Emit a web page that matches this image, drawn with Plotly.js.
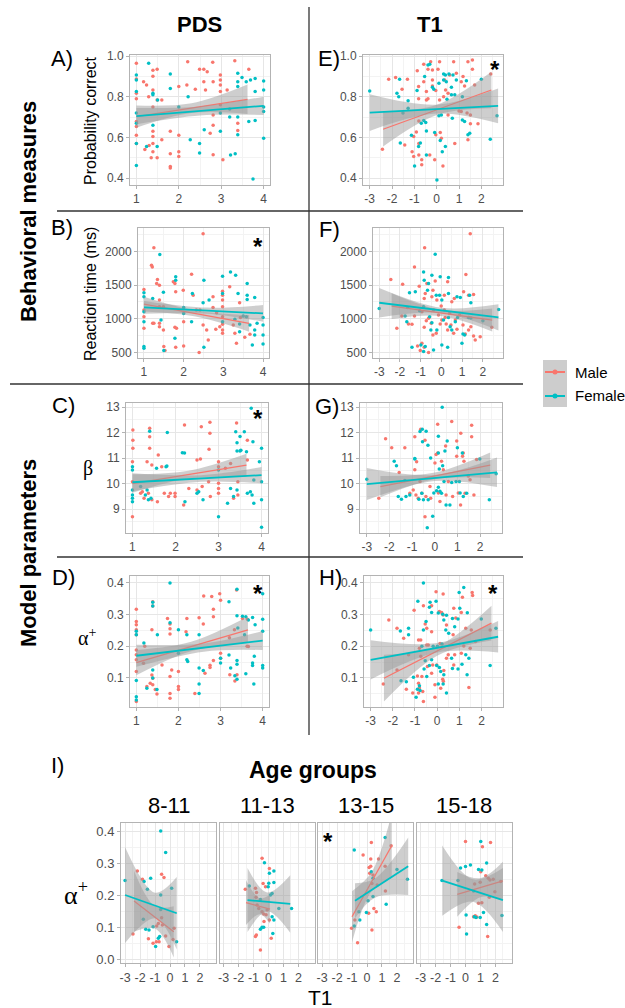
<!DOCTYPE html>
<html>
<head>
<meta charset="utf-8">
<script src="https://cdn.plot.ly/plotly-3.0.1.min.js"></script>
<style>html,body{margin:0;padding:0;background:#fff}#fig{width:625px;height:1008px}</style>
</head>
<body>
<div id="fig"></div>
<script>
// ---- data: [x, y] per point ----
const aMale = [[1,0.964],[1,0.887],[1,0.817],[1,0.79],[1,0.678],[1,0.653],[1,0.61],[1,0.57],[1.17,0.874],[1.24,0.858],[1.29,0.8],[1.39,0.93],[1.39,0.9],[1.39,0.833],[1.39,0.75],[1.39,0.63],[1.39,0.604],[1.39,0.57],[1.39,0.53],[1.49,0.935],[1.49,0.784],[1.35,0.5],[1.49,0.5],[1.6,0.784],[1.6,0.588],[1.8,0.63],[1.8,0.52],[1.8,0.457],[2,0.85],[2,0.61],[2,0.53],[2,0.506],[2.19,0.858],[2.21,0.972],[2.39,0.837],[2.49,0.935],[2.59,0.935],[2.67,0.923],[2.59,0.874],[2.63,0.833],[2.74,0.62],[2.8,0.969],[2.81,0.874],[2.81,0.71],[2.81,0.66],[2.81,0.515],[2.98,0.907],[2.98,0.882],[2.98,0.858],[2.98,0.825],[2.98,0.76],[3.14,0.833],[3.32,0.977],[3.39,0.67],[3.39,0.634],[3.65,0.935],[3.04,0.49],[1.8,0.45],[1.2,0.54],[1.3,0.56]];
const aFemale = [[1,0.907],[1,0.882],[1,0.825],[1,0.72],[1,0.67],[1,0.57],[1,0.462],[1.29,0.964],[1.39,0.817],[1.39,0.66],[1.24,0.555],[1.49,0.555],[1.5,0.784],[1.8,0.912],[1.8,0.84],[2,0.75],[2.22,0.8],[2.27,0.588],[2.49,0.57],[2.49,0.523],[2.6,0.637],[2.98,0.63],[2.98,0.72],[3.2,0.7],[3.22,0.514],[3.33,0.52],[3.39,0.915],[3.39,0.874],[3.39,0.85],[3.39,0.613],[3.49,0.895],[3.59,0.874],[3.69,0.882],[3.8,0.89],[3.8,0.825],[3.65,0.678],[3.8,0.683],[3.75,0.395],[4,0.877],[4,0.833],[4,0.75],[4,0.727],[4,0.596],[3.2,0.74],[3.39,0.7],[1.39,0.81]];

const eMale = [[-2.43,0.542],[-2.15,0.886],[-1.84,0.894],[-1.31,0.886],[-1.55,0.837],[-1.43,0.563],[-1.1,0.53],[-1.03,0.604],[-0.91,0.626],[-0.87,0.928],[-0.81,0.85],[-0.81,0.79],[-0.8,0.68],[-0.8,0.57],[-0.8,0.514],[-0.67,0.465],[-0.67,0.49],[-0.58,0.96],[-0.58,0.874],[-0.46,0.825],[-0.46,0.784],[-0.39,0.935],[-0.39,0.79],[-0.31,0.514],[-0.27,0.972],[-0.19,0.931],[-0.19,0.882],[-0.19,0.853],[-0.09,0.49],[-0.04,0.83],[-0.04,0.613],[0.06,0.935],[0.13,0.972],[0.13,0.784],[0.16,0.624],[0.21,0.596],[0.28,0.46],[0.31,0.8],[0.36,0.882],[0.4,0.833],[0.51,0.817],[0.51,0.71],[0.58,0.907],[0.76,0.972],[0.81,0.57],[0.88,0.915],[1.0,0.73],[1.1,0.727],[1.1,0.874],[1.18,0.899],[1.25,0.853],[1.36,0.72],[1.4,0.972],[1.4,0.588],[1.51,0.667],[1.51,0.71],[1.6,0.98],[1.6,0.935],[1.7,0.858],[1.85,0.667],[2.42,0.912],[-1.03,0.506]];
const eFemale = [[-3,0.828],[-1.78,0.817],[-1.66,0.886],[-1.7,0.8],[-1.63,0.572],[-1.28,0.78],[-1.28,0.743],[-1.51,0.72],[-1.13,0.61],[-0.99,0.46],[-0.88,0.83],[-0.81,0.555],[-0.73,0.572],[-0.69,0.67],[-0.58,0.683],[-0.49,0.673],[-0.54,0.899],[-0.46,0.514],[-0.46,0.632],[-0.39,0.956],[-0.31,0.959],[-0.19,0.846],[-0.13,0.837],[-0.09,0.624],[0.01,0.39],[0.1,0.706],[0.1,0.866],[0.16,0.585],[0.21,0.71],[0.25,0.53],[0.31,0.882],[0.31,0.912],[0.39,0.907],[0.43,0.874],[0.46,0.787],[0.55,0.912],[0.66,0.846],[0.66,0.809],[0.7,0.694],[0.73,0.907],[0.81,0.809],[0.88,0.882],[1.15,0.8],[1.15,0.686],[1.25,0.678],[1.33,0.879],[1.4,0.613],[1.48,0.62],[2.0,0.886],[2.4,0.591],[2.7,0.706],[0.39,0.555]];

const bMale = [[2.49,2260],[1.25,2054],[1.19,1793],[1.21,1769],[1.34,1582],[1.39,1498],[1.32,1523],[1,1434],[1,1130],[1,1031],[1,859],[1.22,933],[1.25,933],[1.39,1277],[1.39,1179],[1.39,933],[1.39,884],[1.49,1179],[1.49,835],[1.5,589],[1.53,530],[1.74,1548],[1.78,1523],[1.8,1400],[1.78,874],[1.82,859],[1.8,579],[1.99,1425],[2,957],[2,598],[2.2,1661],[2.24,1351],[2.32,1130],[2.39,500],[2.49,908],[2.58,835],[2.41,1130],[2.62,687],[2.74,1326],[2.74,1169],[2.83,1090],[2.91,884],[2.98,1410],[2.98,1351],[2.98,1277],[2.98,1179],[2.98,1031],[2.98,918],[2.98,835],[2.98,785],[3.16,1474],[3.25,908],[3.29,785],[3.33,638],[3.41,1238],[3.43,1021],[3.54,726],[3.67,770],[2.81,844]];
const bFemale = [[1,1385],[1,1326],[1,1105],[1,957],[1,589],[1,564],[1.4,1951],[1.49,1395],[1.22,1302],[1.43,982],[1.5,530],[1.8,1622],[1.8,1572],[1.78,711],[2,1169],[2,1080],[2.2,957],[2.22,1375],[2.51,1572],[2.49,1238],[2.51,579],[2.64,1277],[2.98,1631],[2.98,1375],[2.98,957],[3.18,1695],[3.31,1646],[3.37,1375],[3.41,923],[3.41,810],[3.6,1523],[3.6,1351],[3.6,1287],[3.58,1031],[3.67,908],[3.73,613],[3.79,1316],[3.79,835],[3.79,761],[3.85,933],[4,1021],[4,908],[4,761],[4,628],[3.5,1041],[3.29,992]];

const fMale = [[1.39,2260],[-0.81,2054],[-1.3,1769],[-2.44,1582],[-1.87,1513],[-1.07,1484],[-0.7,1523],[-0.3,1562],[0.3,1548],[-0.41,1425],[-0.78,1375],[-0.46,1326],[-0.83,1302],[-0.22,1277],[0.14,1351],[0.62,1302],[0.5,1252],[1.07,1400],[1.18,1656],[1.31,1351],[1.55,1361],[-2.15,859],[-1.91,1041],[-1.59,923],[-1.42,918],[-1.3,1041],[-0.94,1105],[-0.73,972],[-0.83,874],[-0.62,1007],[-0.49,933],[-0.41,761],[-0.38,1130],[-0.25,785],[-0.14,1056],[-0.06,923],[0.02,982],[0.14,1130],[0.18,1021],[0.23,923],[0.3,835],[0.39,1080],[0.46,908],[0.59,785],[0.67,982],[0.75,844],[0.88,1056],[1.04,908],[1.15,775],[1.31,835],[1.42,884],[1.55,746],[1.63,687],[1.87,736],[2.43,874],[-1.15,598],[-0.94,638],[-0.83,579],[-0.62,500],[-1.02,530],[-0.01,1189]];
const fFemale = [[-3,1154],[-0.3,1956],[-0.86,1695],[-0.83,1572],[-0.62,1523],[-0.46,1646],[-0.06,1622],[0.34,1612],[-1.54,1385],[-1.26,1400],[-0.67,1425],[-0.25,1351],[-0.09,1351],[0.02,1277],[0.34,1375],[0.75,1326],[0.91,1316],[1.36,1351],[1.42,1238],[-1.63,1169],[-1.75,1041],[-1.67,957],[-1.05,1120],[-0.86,1179],[-0.57,1031],[-0.46,943],[-0.51,835],[-0.22,835],[0.1,982],[0.34,1021],[0.42,884],[0.5,835],[0.67,957],[0.78,1021],[1.04,775],[1.12,761],[1.31,1021],[1.42,1011],[-1.42,579],[-0.99,613],[-0.78,589],[0.02,613],[0.3,579],[0.99,638],[2.0,972],[2.76,1140],[-0.38,540],[-0.86,515]];

const cMale = [[1.01,12.1],[1.01,11.7],[1.01,11.38],[1.4,12.17],[1.4,11.84],[1.4,11.38],[1.6,11.12],[2.21,12.3],[2.6,12.23],[2.8,12.4],[2.8,11.97],[2.78,11.35],[3.42,12.38],[3.67,11.7],[2.58,10.96],[1,10.86],[1,8.7],[1,10.07],[1.19,9.62],[1.23,9.68],[1.27,9.42],[1.34,10.86],[1.37,9.62],[1.45,10.73],[1.45,9.36],[1.58,9.29],[1.68,10.66],[1.74,9.62],[1.84,9.49],[1.88,9.62],[1.99,9.62],[1.99,9.49],[2.19,9.16],[2.31,9.81],[2.5,9.75],[2.5,10.92],[2.62,9.88],[2.77,10.07],[2.81,9.49],[3,10.86],[3,10.66],[3,10.01],[3,9.81],[3,9.62],[3.16,10.6],[3.28,10.79],[3.35,9.42],[3.45,9.55],[3.67,10.92],[3.45,10.07]];
const cFemale = [[1.4,12.05],[1.81,12.0],[2.21,11.2],[3.76,12.95],[3.4,12.03],[3.5,11.85],[3.6,12.03],[3.43,11.6],[3.43,11.28],[3.5,11.28],[3.8,11.64],[4,11.38],[1,10.66],[1,10.53],[1,9.75],[1,9.55],[1,9.42],[1,9.29],[1.19,9.88],[1.3,9.55],[1.34,9.75],[1.37,9.36],[1.43,9.42],[1.56,10.6],[1.78,10.66],[1.8,10.69],[2.16,11.21],[2.22,9.29],[2.5,9.62],[2.54,9.68],[2.64,9.36],[3,8.7],[3,10.53],[3.21,9.23],[3.28,9.81],[3.35,9.49],[3.43,9.75],[3.52,11.31],[3.65,11.25],[3.67,9.62],[3.74,9.68],[3.78,9.55],[3.82,9.23],[3.82,10.14],[4,10.07],[4,9.36],[4,8.29],[3.95,10.86]];

const gMale = [[0.75,12.43],[1.63,12.29],[0.13,12.33],[-2.17,11.76],[-1.9,11.4],[-1.32,11.4],[-0.88,11.84],[-0.62,12.13],[-0.43,11.7],[1.15,11.97],[1.63,11.84],[0.97,11.67],[0.48,11.47],[0.13,11.2],[1.26,11.2],[-2.47,9.42],[-1.57,10.43],[-0.88,10.54],[-0.8,10.86],[-1.1,9.62],[-0.95,9.75],[-0.83,9.55],[-0.73,9.42],[-0.65,10.08],[-0.57,9.62],[-0.43,8.7],[-0.39,9.49],[-0.21,9.88],[-0.18,9.42],[0.01,10.81],[0.06,11.14],[0.16,9.63],[0.23,9.3],[0.3,10.87],[0.38,10.54],[0.5,9.55],[0.6,10.08],[0.79,9.49],[0.97,11.07],[1.04,9.63],[1.14,9.16],[1.23,11.07],[1.29,10.87],[1.34,9.62],[1.48,10.3],[1.73,9.55],[1.85,10.94],[1.56,10.15]];
const gFemale = [[0.33,12.99],[-0.65,12.04],[-0.55,12.13],[-0.38,12.05],[-0.54,11.64],[-0.3,11.5],[0.16,11.86],[0.55,11.67],[0.16,11.2],[0.45,11.28],[1.0,11.4],[1.22,11.2],[-0.88,10.98],[-3,10.17],[-1.79,10.87],[-1.69,10.7],[-1.61,9.49],[-1.47,9.38],[-1.27,9.49],[-1.32,10.12],[-1.1,9.55],[-0.88,10.96],[-0.7,9.38],[-0.57,9.62],[-0.5,9.36],[-0.33,8.27],[-0.29,9.36],[-0.18,11.0],[-0.09,8.72],[-0.04,9.63],[0.08,9.72],[0.16,9.85],[0.2,10.57],[0.23,9.7],[0.3,9.62],[0.35,10.7],[0.41,10.08],[0.5,9.16],[0.67,9.16],[0.75,10.04],[0.94,10.08],[1.09,10.08],[1.12,9.63],[1.26,9.49],[1.41,9.62],[1.99,10.96],[2.41,9.36],[2.71,10.38]];

const dMale = [[1,0.317],[1,0.278],[1,0.268],[1,0.252],[1,0.236],[1.2,0.2],[1.37,0.252],[1.39,0.341],[1.39,0.327],[1.74,0.288],[1.8,0.27],[1.8,0.255],[1.8,0.239],[2.18,0.246],[2.2,0.288],[2.49,0.29],[2.59,0.27],[2.6,0.359],[2.79,0.357],[2.83,0.317],[2.83,0.293],[2.98,0.366],[3.0,0.345],[3.21,0.227],[3.33,0.252],[3.38,0.378],[3.52,0.288],[3.64,0.285],[1,0.173],[1,0.157],[1,0.12],[1,0.025],[1,0.188],[1.17,0.146],[1.25,0.073],[1.33,0.083],[1.37,0.109],[1.39,0.099],[1.39,0.078],[1.45,0.063],[1.49,0.049],[1.61,0.141],[1.8,0.104],[1.8,0.051],[1.8,0.036],[1.84,0.125],[2.0,0.12],[2.0,0.073],[2.0,0.063],[2.39,0.051],[2.63,0.115],[2.75,0.14],[2.75,0.133],[2.83,0.155],[3.0,0.178],[3.0,0.162],[3.22,0.11],[3.34,0.09],[3.39,0.11],[3.63,0.2],[3.66,0.199]];
const dFemale = [[1,0.247],[1,0.236],[1.39,0.339],[1.39,0.327],[1.5,0.236],[1.8,0.4],[1.8,0.274],[2.0,0.252],[2.2,0.236],[2.49,0.236],[3.2,0.341],[3.39,0.38],[3.39,0.296],[3.52,0.295],[3.6,0.293],[3.66,0.283],[3.76,0.291],[3.82,0.268],[4,0.366],[4,0.285],[4,0.247],[3.41,0.258],[3.57,0.236],[1,0.092],[1,0.04],[1,0.03],[1.18,0.21],[1.25,0.067],[1.39,0.125],[1.39,0.1],[1.49,0.063],[2.0,0.178],[2.2,0.157],[2.22,0.152],[2.49,0.131],[2.49,0.081],[2.49,0.051],[2.59,0.123],[3.0,0.147],[3.0,0.162],[3.2,0.172],[3.24,0.131],[3.39,0.155],[3.39,0.143],[3.34,0.107],[3.39,0.096],[3.6,0.113],[3.76,0.147],[3.76,0.139],[3.79,0.081],[3.8,0.168],[4,0.139],[4,0.131]];

const hMale = [[-0.05,0.372],[0.27,0.365],[-0.62,0.328],[-0.25,0.328],[0.75,0.32],[1.58,0.37],[1.6,0.36],[1.14,0.355],[-0.54,0.27],[-0.47,0.257],[-0.25,0.246],[0.1,0.31],[0.2,0.307],[0.27,0.299],[0.42,0.267],[0.72,0.236],[0.84,0.289],[1.09,0.307],[1.29,0.257],[1.54,0.251],[-2.18,0.283],[-1.81,0.257],[-1.51,0.225],[-0.84,0.22],[-0.74,0.22],[2.39,0.251],[-1.04,0.314],[-0.47,0.204],[-2.43,0.081],[-1.81,0.125],[-1.29,0.173],[-1.39,0.064],[-1.1,0.052],[-0.89,0.106],[-0.84,0.083],[-0.84,0.052],[-0.8,0.068],[-0.8,0.194],[-0.74,0.168],[-0.69,0.104],[-0.65,0.057],[-0.62,0.025],[-0.44,0.136],[-0.4,0.204],[-0.25,0.115],[-0.2,0.141],[-0.1,0.078],[-0.1,0.039],[-0.02,0.141],[0.13,0.209],[0.16,0.067],[0.25,0.096],[0.28,0.089],[0.3,0.123],[0.42,0.162],[0.5,0.173],[0.75,0.141],[0.79,0.173],[1.09,0.178],[1.43,0.07],[1.49,0.194],[1.73,0.215],[1.2,0.201]];
const hFemale = [[-0.62,0.4],[-0.87,0.342],[-0.32,0.339],[-0.35,0.323],[-0.05,0.342],[-0.25,0.307],[1.2,0.386],[0.99,0.37],[1.02,0.32],[1.36,0.306],[0.42,0.298],[0.3,0.283],[0.39,0.251],[0.69,0.288],[0.79,0.262],[0.94,0.286],[1.99,0.286],[-3,0.251],[-1.29,0.257],[-1.66,0.248],[-1.29,0.236],[-0.62,0.251],[-0.5,0.278],[0.05,0.305],[0.25,0.301],[0.52,0.241],[2.65,0.257],[-1.63,0.091],[-1.39,0.088],[-1.07,0.102],[-0.95,0.039],[-0.89,0.064],[-0.8,0.075],[-0.77,0.06],[-0.69,0.2],[-0.59,0.128],[-0.54,0.154],[-0.47,0.104],[-0.35,0.139],[-0.25,0.157],[-0.18,0.2],[-0.02,0.139],[0.05,0.081],[0.1,0.133],[0.16,0.12],[0.27,0.081],[0.3,0.11],[0.42,0.052],[0.65,0.162],[0.69,0.13],[0.94,0.128],[1.12,0.143],[1.29,0.173],[1.35,0.11],[1.43,0.162],[2.39,0.139],[0.01,0.2],[0.22,0.207]];

// age group facets (alpha+ vs T1)
const i1Male = [[-2.47,0.078],[-2.18,0.275],[-1.84,0.249],[-1.44,0.063],[-1.13,0.049],[-0.91,0.054],[-0.73,0.054],[-0.56,0.265],[-0.4,0.255],[-0.78,0.111],[-0.51,0.106],[-0.56,0.129],[-0.29,0.072],[-0.07,0.039],[0.2,0.061],[0.27,0.096],[-0.89,0.103]];
const i1Female = [[-3,0.245],[-1.73,0.242],[-1.51,0.218],[-1.29,0.252],[-1.78,0.124],[-1.62,0.093],[-1.4,0.091],[-1.13,0.101],[-0.96,0.039],[-0.78,0.065],[-0.69,0.07],[-0.62,0.155],[-0.62,0.2],[-0.29,0.333],[0.11,0.221],[0.44,0.054],[-0.62,0.4]];
const i2Male = [[-1.55,0.218],[-0.87,0.221],[-0.83,0.193],[-0.8,0.208],[-0.76,0.169],[-0.65,0.158],[-0.43,0.315],[-0.36,0.236],[-0.2,0.226],[-0.43,0.148],[-0.32,0.141],[-0.16,0.138],[-0.09,0.153],[0.06,0.283],[0.06,0.122],[0.18,0.065],[-0.54,0.028],[-0.81,0.075],[-0.87,0.07],[-0.3,0.117]];
const i2Female = [[-1.28,0.228],[-0.27,0.301],[0.06,0.268],[0.36,0.275],[0.36,0.239],[-0.02,0.226],[0.02,0.237],[0.24,0.205],[0.13,0.2],[0.36,0.122],[0.29,0.08],[-0.54,0.093],[-0.43,0.099],[-0.32,0.099],[0.24,0.132],[0.69,0.158],[1.54,0.158],[-0.54,0.186]];
const i3Male = [[-1.03,0.096],[-0.81,0.122],[-0.63,0.051],[-0.26,0.325],[0.25,0.3125],[0.25,0.29],[0.14,0.286],[0.18,0.268],[0.4,0.2625],[0.68,0.231],[0.77,0.3125],[1.21,0.29],[1.61,0.354],[0.33,0.236],[0.46,0.158],[0.62,0.148],[0.33,0.091],[0.11,0.143],[1.23,0.2125],[0.29,0.364]];
const i3Female = [[-0.85,0.341],[-0.85,0.103],[-0.54,0.148],[-0.48,0.122],[-0.04,0.145],[0.07,0.182],[0.29,0.273],[0.4,0.252],[0.4,0.195],[1.28,0.171],[2.0,0.28],[2.7,0.249],[1.21,0.38]];
const i4Male = [[-0.43,0.099],[0,0.367],[1.02,0.273],[1.13,0.351],[1.67,0.364],[1.35,0.26],[1.52,0.252],[1.63,0.247],[1.85,0.249],[1.96,0.21],[0.87,0.174],[1.09,0.176],[0.98,0.24],[1.48,0.07],[0.65,0.135],[0.76,0.131],[0.54,0.132],[2.35,0.242],[1.59,0.193],[0.61,0.234]];
const i4Female = [[-1.57,0.245],[-0.5,0.245],[-0.33,0.284],[0,0.289],[0.33,0.294],[0.87,0.28],[1.09,0.278],[1.02,0.367],[1.41,0.3],[0.54,0.2125],[0.04,0.1375],[0.07,0.078],[0.59,0.132],[0.7,0.13],[0.98,0.13],[1.2,0.145],[1.41,0.108],[2.43,0.136]];

// fitted lines with confidence band: [x, fit, lower, upper]
const aFitM = [[1,0.702,0.648,0.757],[2.3,0.744,0.72,0.768],[3.62,0.787,0.715,0.86]];
const aFitF = [[1,0.705,0.665,0.745],[2.5,0.73,0.708,0.752],[4,0.755,0.71,0.8]];
const eFitM = [[-2.4,0.64,0.555,0.727],[0,0.735,0.71,0.76],[2.45,0.833,0.743,0.923]];
const eFitF = [[-3,0.722,0.632,0.812],[0,0.739,0.717,0.761],[2.75,0.755,0.67,0.84]];
const bFitM = [[1,1218,1108,1328],[2.3,1078,1033,1123],[3.65,933,810,1056]];
const bFitF = [[1,1169,1074,1264],[2.6,1121,1076,1166],[4,1080,957,1203]];
const fFitM = [[-2.4,1189,999,1379],[0,1087,1042,1132],[2.45,982,812,1152]];
const fFitF = [[-3,1238,1018,1458],[0,1125,1085,1165],[2.75,1021,826,1216]];
const cFitM = [[1,10.0,9.64,10.36],[2.3,10.35,10.2,10.5],[3.65,10.72,10.27,11.17]];
const cFitF = [[1,10.05,9.7,10.4],[2.6,10.2,10.07,10.33],[4,10.33,10.01,10.65]];
const gFitM = [[-2.4,9.88,9.46,10.3],[0,10.3,10.17,10.43],[2.45,10.72,10.22,11.22]];
const gFitF = [[-3,9.98,9.35,10.61],[0,10.22,10.1,10.34],[2.75,10.44,9.86,11.02]];
const dFitM = [[1,0.148,0.108,0.188],[2.3,0.199,0.184,0.214],[3.65,0.252,0.21,0.294]];
const dFitF = [[1,0.17,0.135,0.205],[2.6,0.196,0.183,0.209],[4,0.218,0.188,0.248]];
const hFitM = [[-2.4,0.099,0.025,0.173],[0,0.185,0.17,0.2],[2.45,0.273,0.218,0.328]];
const hFitF = [[-3,0.157,0.095,0.219],[0,0.195,0.18,0.21],[2.75,0.23,0.18,0.28]];
const i1FitM = [[-2.4,0.181,0.086,0.276],[-1,0.13,0.095,0.165],[0.25,0.085,0.005,0.165]];
const i1FitF = [[-3,0.2,0.05,0.35],[-1,0.167,0.127,0.207],[0.45,0.143,0.03,0.256]];
const i2FitM = [[-1.5,0.176,0.106,0.246],[-0.6,0.165,0.14,0.19],[0.1,0.156,0.111,0.201]];
const i2FitF = [[-1.4,0.184,0.084,0.284],[-0.1,0.1785,0.149,0.208],[1.45,0.172,0.082,0.262]];
const i3FitM = [[-1,0.132,0.052,0.212],[0.3,0.241,0.211,0.271],[1.65,0.354,0.254,0.454]];
const i3FitF = [[-0.8,0.182,0.127,0.237],[0.5,0.221,0.191,0.251],[2.75,0.29,0.2,0.38]];
const i4FitM = [[-0.55,0.202,0.132,0.272],[1,0.223,0.193,0.253],[2.5,0.244,0.184,0.304]];
const i4FitF = [[-1.55,0.245,0.135,0.355],[0.5,0.214,0.179,0.249],[2.5,0.184,0.084,0.284]];

// tick labels
const pdsTicks = [1, 2, 3, 4];
const t1Ticks = [-3, -2, -1, 0, 1, 2];
const t1Labels = ['-3', '-2', '-1', '0', '1', '2'];
const probTicks = [0.4, 0.6, 0.8, 1.0];
const probLabels = ['0.4', '0.6', '0.8', '1.0'];
const rtTicks = [500, 1000, 1500, 2000];
const betaTicks = [9, 10, 11, 12, 13];
const alphaTicks = [0.1, 0.2, 0.3, 0.4];
const ageAlphaTicks = [0, 0.1, 0.2, 0.3, 0.4];
const ageAlphaLabels = ['0.0', '0.1', '0.2', '0.3', '0.4'];

const W = 625, H = 1008;
const RED = '#F8766D', TEAL = '#00BFC4';
const BAND = 'rgba(153,153,153,0.48)';
const FONT = 'Liberation Sans, Arial, sans-serif';
const px = v => v / W;
const py = v => 1 - v / H;

const PDS_X = { range: [0.85, 4.15], vals: pdsTicks, text: pdsTicks.map(String), minor: [1.5, 2.5, 3.5] };
const T1_X = { range: [-3.3, 2.97], vals: t1Ticks, text: t1Labels, minor: [-2.5, -1.5, -0.5, 0.5, 1.5, 2.5] };
const AGE_X = { range: [-3.27, 3.07], vals: t1Ticks, text: t1Labels, minor: [-2.5, -1.5, -0.5, 0.5, 1.5, 2.5], size: 12.5 };
const PROB_Y = { range: [0.366, 1.005], vals: probTicks, text: probLabels, minor: [0.5, 0.7, 0.9] };
const RT_Y = { range: [420, 2345], vals: rtTicks, text: rtTicks.map(String), minor: [750, 1250, 1750, 2250] };
const BETA_Y = { range: [8.06, 13.16], vals: betaTicks, text: betaTicks.map(String), minor: [8.5, 9.5, 10.5, 11.5, 12.5] };
const ALPHA_Y = { range: [0.008, 0.422], vals: alphaTicks, text: ['0.1', '0.2', '0.3', '0.4'], minor: [0.05, 0.15, 0.25, 0.35] };
const AGE_Y = { range: [-0.0125, 0.425], vals: ageAlphaTicks, text: ageAlphaLabels, minor: [0.05, 0.15, 0.25, 0.35], size: 13 };

// frame: [left, right, top, bottom] in pixels
const panels = [
    { frame: [130, 270, 55, 185], xs: PDS_X, ys: PROB_Y, m: aMale, f: aFemale, fm: aFitM, ff: aFitF },
    { frame: [138, 269, 228, 358], xs: PDS_X, ys: RT_Y, m: bMale, f: bFemale, fm: bFitM, ff: bFitF },
    { frame: [126, 268, 403, 533], xs: PDS_X, ys: BETA_Y, m: cMale, f: cFemale, fm: cFitM, ff: cFitF },
    { frame: [130, 269, 576, 707], xs: PDS_X, ys: ALPHA_Y, m: dMale, f: dFemale, fm: dFitM, ff: dFitF },
    { frame: [363, 503, 55, 185], xs: T1_X, ys: PROB_Y, m: eMale, f: eFemale, fm: eFitM, ff: eFitF },
    { frame: [373, 503, 228, 358], xs: T1_X, ys: RT_Y, m: fMale, f: fFemale, fm: fFitM, ff: fFitF },
    { frame: [360, 502, 403, 533], xs: T1_X, ys: BETA_Y, m: gMale, f: gFemale, fm: gFitM, ff: gFitF },
    { frame: [364, 503, 576, 707], xs: T1_X, ys: ALPHA_Y, m: hMale, f: hFemale, fm: hFitM, ff: hFitF },
    { frame: [121, 216, 823, 963], xs: AGE_X, ys: AGE_Y, m: i1Male, f: i1Female, fm: i1FitM, ff: i1FitF },
    { frame: [219.5, 314.5, 823, 963], xs: AGE_X, ys: AGE_Y, m: i2Male, f: i2Female, fm: i2FitM, ff: i2FitF, noY: true },
    { frame: [318, 413, 823, 963], xs: AGE_X, ys: AGE_Y, m: i3Male, f: i3Female, fm: i3FitM, ff: i3FitF, noY: true },
    { frame: [416.5, 511.5, 823, 963], xs: AGE_X, ys: AGE_Y, m: i4Male, f: i4Female, fm: i4FitM, ff: i4FitF, noY: true }
];

function axisSpec(s, domain, anchor, hideLabels) {
    return {
        domain: domain,
        anchor: anchor,
        range: s.range,
        tickmode: 'array',
        tickvals: s.vals,
        ticktext: s.text,
        showticklabels: !hideLabels,
        ticks: hideLabels ? '' : 'outside',
        ticklen: 3,
        tickcolor: '#b3b3b3',
        tickfont: { family: FONT, size: s.size || 12, color: '#4d4d4d' },
        showgrid: true,
        gridcolor: '#e6e6e6',
        gridwidth: 1,
        minor: { tickmode: 'array', tickvals: s.minor, showgrid: true, gridcolor: '#f3f3f3', gridwidth: 1, ticks: '' },
        zeroline: false,
        showline: true,
        mirror: true,
        linecolor: '#b3b3b3',
        linewidth: 1,
        fixedrange: true
    };
}

const traces = [];
const layout = {
    width: W,
    height: H,
    margin: { t: 0, r: 0, b: 0, l: 0 },
    paper_bgcolor: '#ffffff',
    plot_bgcolor: '#ffffff',
    showlegend: false,
    font: { family: FONT },
    annotations: [],
    shapes: []
};

panels.forEach((p, i) => {
    const k = i === 0 ? '' : String(i + 1);
    const xa = 'x' + k, ya = 'y' + k;
    const [l, r, t, b] = p.frame;
    layout['xaxis' + k] = axisSpec(p.xs, [px(l), px(r)], ya, false);
    layout['yaxis' + k] = axisSpec(p.ys, [py(b), py(t)], xa, !!p.noY);

    [[p.m, RED], [p.f, TEAL]].forEach(([pts, col]) => {
        traces.push({
            type: 'scatter', mode: 'markers', xaxis: xa, yaxis: ya,
            x: pts.map(d => d[0]), y: pts.map(d => d[1]),
            marker: { size: 3.5, color: col },
            hoverinfo: 'skip'
        });
    });

    [[p.fm, RED, 1.3], [p.ff, TEAL, 1.8]].forEach(([fit, col, w]) => {
        const xs = fit.map(d => d[0]);
        traces.push({
            type: 'scatter', mode: 'lines', xaxis: xa, yaxis: ya,
            x: xs, y: fit.map(d => d[2]),
            line: { width: 0, shape: 'spline', smoothing: 1 }, hoverinfo: 'skip'
        });
        traces.push({
            type: 'scatter', mode: 'lines', xaxis: xa, yaxis: ya,
            x: xs, y: fit.map(d => d[3]),
            line: { width: 0, shape: 'spline', smoothing: 1 },
            fill: 'tonexty', fillcolor: BAND, hoverinfo: 'skip'
        });
        traces.push({
            type: 'scatter', mode: 'lines', xaxis: xa, yaxis: ya,
            x: xs, y: fit.map(d => d[1]),
            line: { width: w, color: col }, hoverinfo: 'skip'
        });
    });
});

function note(text, x, y, size, opts) {
    layout.annotations.push(Object.assign({
        text: text, x: px(x), y: py(y), xref: 'paper', yref: 'paper',
        xanchor: 'center', yanchor: 'middle', showarrow: false,
        font: { family: FONT, size: size, color: '#000000' }
    }, opts || {}));
}

// column / row headers
note('<b>PDS</b>', 199, 24, 22);
note('<b>T1</b>', 430, 24, 22);
note('<b>Behavioral measures</b>', 28, 212, 22, { textangle: -90 });
note('<b>Model parameters</b>', 28, 553, 22, { textangle: -90 });

// panel letters
[['A)', 62, 58], ['B)', 62, 228], ['C)', 63, 405], ['D)', 63, 577],
 ['E)', 329, 58], ['F)', 329, 230], ['G)', 327, 406], ['H)', 330, 577], ['I)', 58, 765]]
    .forEach(([t, x, y]) => note(t, x, y, 22));

// y-axis titles
note('Probability correct', 90, 121, 16, { textangle: -90 });
note('Reaction time (ms)', 90, 294, 16, { textangle: -90 });
note('β', 88, 468, 20, { font: { family: 'Liberation Serif, serif', size: 20, color: '#000' } });
note('α<sup>+</sup>', 87, 637, 20, { font: { family: 'Liberation Serif, serif', size: 20, color: '#000' } });
note('α<sup>+</sup>', 76, 893, 26, { font: { family: 'Liberation Serif, serif', size: 26, color: '#000' } });

// age groups block
note('<b>Age groups</b>', 313, 770, 23);
[['8-11', 168.5], ['11-13', 267], ['13-15', 365.5], ['15-18', 464]].forEach(([t, x]) => note(t, x, 805, 22));
note('T1', 320, 997, 21);

// significance stars
[[495, 70], [258, 246], [258, 418], [258, 593], [493, 593], [328, 841]]
    .forEach(([x, y]) => note('<b>*</b>', x, y, 24));

// legend
note('Male', 573, 372, 15, { xanchor: 'left' });
note('Female', 573, 396, 15, { xanchor: 'left' });
const paperShape = (o) => Object.assign({ xref: 'paper', yref: 'paper' }, o);
layout.shapes.push(paperShape({ type: 'rect', x0: px(543), x1: px(567), y0: py(360), y1: py(407), fillcolor: '#cdcdcd', line: { width: 0 } }));
[[372, RED], [396, TEAL]].forEach(([y, col]) => {
    layout.shapes.push(paperShape({ type: 'line', x0: px(545), x1: px(565), y0: py(y), y1: py(y), line: { color: col, width: 2 } }));
    layout.shapes.push(paperShape({ type: 'circle', x0: px(552.5), x1: px(557.5), y0: py(y + 2.5), y1: py(y - 2.5), fillcolor: col, line: { width: 0 } }));
});

// divider lines
const DIV = { color: '#333333', width: 1.3 };
layout.shapes.push(paperShape({ type: 'line', x0: px(309), x1: px(309), y0: py(7), y1: py(735), line: DIV }));
layout.shapes.push(paperShape({ type: 'line', x0: px(57), x1: px(523), y0: py(211), y1: py(211), line: DIV }));
layout.shapes.push(paperShape({ type: 'line', x0: px(10), x1: px(523), y0: py(384), y1: py(384), line: DIV }));
layout.shapes.push(paperShape({ type: 'line', x0: px(57), x1: px(523), y0: py(557), y1: py(557), line: DIV }));

Plotly.newPlot('fig', traces, layout, { staticPlot: true, displayModeBar: false });
</script>
</body>
</html>
